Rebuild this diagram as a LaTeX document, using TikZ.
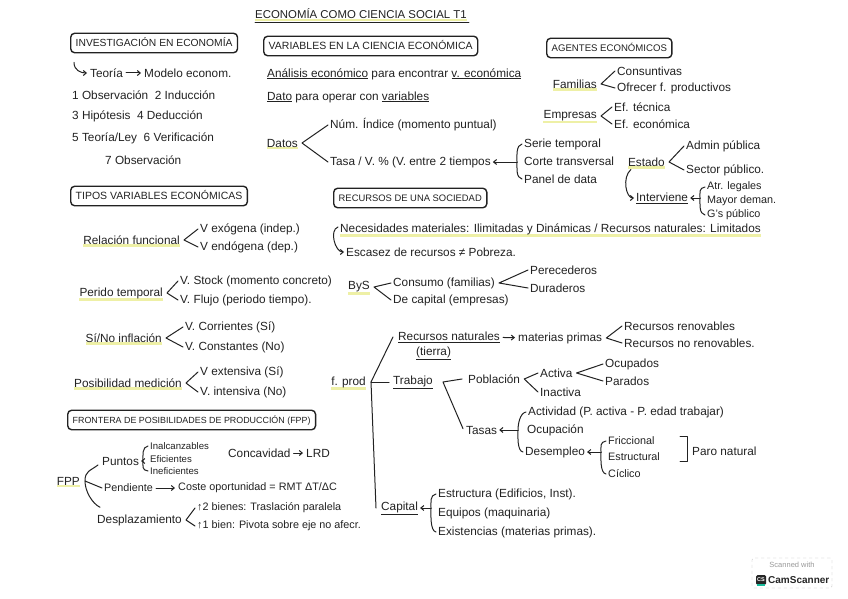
\documentclass[tikz,border=0pt]{standalone}
\usepackage{fontspec}
\setmainfont{Liberation Sans}
\usetikzlibrary{backgrounds,arrows.meta,calc}
\definecolor{ink}{HTML}{222222}
\definecolor{hlc}{HTML}{EEF0A6}
\definecolor{csgreen}{HTML}{19BC9C}
\newcommand\ltb[3]{\draw[br] ([xshift=-2pt]#2.west) -- ([xshift=4pt]#1.east) -- ([xshift=-2pt]#3.west);}
\newcommand\arb[3]{%
  \coordinate (bv) at ([xshift=-7pt]#3.west |- #1.east);
  \draw[br] ([xshift=-2pt]#2.west) .. controls +(-6,1) and +(0,-6) .. (bv) .. controls +(0,6) and +(-6,-1) .. ([xshift=-2pt]#3.west);
  \draw[arr] (bv) -- ([xshift=2pt]#1.east);}
\begin{document}
\begin{tikzpicture}[x=1pt,y=-1pt,
  txt/.style={anchor=west,inner sep=0pt,text=ink,font=\fontsize{11.8}{13}\selectfont},
  sm/.style={txt,font=\fontsize{10.8}{12}\selectfont},
  xs/.style={txt,font=\fontsize{9.6}{10}\selectfont},
  box/.style={anchor=west,draw=ink,line width=1.4pt,rounded corners=4pt,inner xsep=5pt,inner ysep=6pt,text height=7.5pt,text depth=0pt,text=ink},
  br/.style={draw=ink,line width=1pt,line cap=round,line join=round},
  arr/.style={br,-{Straight Barb[length=3pt,width=5pt]}},
  tarr/.style={arr,shorten <=3pt,shorten >=3pt}]
\useasboundingbox (0,0) rectangle (848,599);

% title
\node[txt,font=\fontsize{11.4}{12}\selectfont] (title) at (255,14) {ECONOMÍA COMO CIENCIA SOCIAL T1};
\draw[br] ([yshift=-3pt]title.south west) -- ([yshift=-3pt,xshift=2pt]title.south east);

% investigacion
\node[box,font=\fontsize{10.3}{11}\selectfont] (inv) at (70,43) {INVESTIGACIÓN EN ECONOMÍA};
\node[txt] (teo) at (90,73) {Teoría};
\node[txt] (mod) at (144,73) {Modelo econom.};
\draw[tarr] (teo) -- (mod);
\draw[arr] ([xshift=4pt,yshift=-9pt]inv.south west) .. controls +(0,8) and +(-6,0) .. ([xshift=-3pt]teo.west);
\node[txt] (s1) at (72,95) {1 Observación \ 2 Inducción};
\node[txt] (s3) at (72,116) {3 Hipótesis \ 4 Deducción};
\node[txt] (s5) at (72,138) {5 Teoría/Ley \ 6 Verificación};
\node[txt] (s7) at (105,160) {7 Observación};

% variables
\node[box,font=\fontsize{10.5}{11}\selectfont] (var) at (263,46) {VARIABLES EN LA CIENCIA ECONÓMICA};
\node[txt] (ana) at (267,74) {\underline{Análisis económico} para encontrar \underline{v. económica}};
\node[txt] (dato) at (267,97) {\underline{Dato} para operar con \underline{variables}};
\node[txt,anchor=east] (datos) at (298,143) {Datos};
\node[txt] (num) at (330,125) {Núm. Índice (momento puntual)};
\node[txt] (tasa) at (330,162) {Tasa / V. \% (V. entre 2 tiempos};
\ltb{datos}{num}{tasa}
\node[txt] (serie) at (524,144) {Serie temporal};
\node[txt] (corte) at (524,161) {Corte transversal};
\node[txt] (panel) at (524,179) {Panel de data};
\arb{tasa}{serie}{panel}

% agentes
\node[box,font=\fontsize{9.6}{10}\selectfont] (age) at (546,48) {AGENTES ECONÓMICOS};
\node[txt,anchor=east] (fam) at (597,84) {Familias};
\node[txt] (cons) at (617,71) {Consuntivas};
\node[txt] (ofr) at (617,88) {Ofrecer f. productivos};
\ltb{fam}{cons}{ofr}
\node[txt,anchor=east] (emp) at (597,116) {Empresas};
\node[txt] (eft) at (614,107) {Ef. técnica};
\node[txt] (efe) at (614,124) {Ef. económica};
\ltb{emp}{eft}{efe}
\node[txt,anchor=east] (est) at (665,162) {Estado};
\node[txt] (adm) at (686,146) {Admin pública};
\node[txt] (sec) at (686,170) {Sector público.};
\ltb{est}{adm}{sec}
\node[txt] (int) at (636,198) {\underline{Interviene}};
\node[sm] (atr) at (707,187) {Atr. legales};
\node[sm] (may) at (707,201) {Mayor deman.};
\node[sm] (gs) at (707,215) {G's público};
\arb{int}{atr}{gs}
\draw[arr] ([xshift=3pt,yshift=-3pt]est.south west) .. controls +(-9,8) and +(-8,0) .. ([xshift=-2pt]int.west);

% tipos
\node[box,font=\fontsize{10.5}{11}\selectfont] (tip) at (70,196) {TIPOS VARIABLES ECONÓMICAS};
\node[txt,anchor=east] (rf) at (180,240) {Relación funcional};
\node[txt] (vex) at (200,229) {V exógena (indep.)};
\node[txt] (ven) at (200,247) {V endógena (dep.)};
\ltb{rf}{vex}{ven}
\node[txt,anchor=east] (pt) at (163,293) {Perido temporal};
\node[txt] (vst) at (180,281) {V. Stock (momento concreto)};
\node[txt] (vfl) at (180,300) {V. Flujo (periodo tiempo).};
\ltb{pt}{vst}{vfl}
\node[txt,anchor=east] (inf) at (162,338) {Sí/No inflación};
\node[txt] (vco) at (185,327) {V. Corrientes (Sí)};
\node[txt] (vcn) at (185,347) {V. Constantes (No)};
\ltb{inf}{vco}{vcn}
\node[txt,anchor=east] (pm) at (182,383) {Posibilidad medición};
\node[txt] (vext) at (200,372) {V extensiva (Sí)};
\node[txt] (vint) at (200,392) {V. intensiva (No)};
\ltb{pm}{vext}{vint}

% recursos
\node[box,font=\fontsize{9.4}{10}\selectfont] (rec) at (333,198) {RECURSOS DE UNA SOCIEDAD};
\node[txt] (nec) at (340,229) {Necesidades materiales: Ilimitadas y Dinámicas / Recursos naturales: Limitados};
\node[txt] (esc) at (346,252) {Escasez de recursos ≠ Pobreza.};
\draw[arr] ([xshift=-2pt,yshift=2pt]nec.west) .. controls +(-9,3) and +(-9,0) .. ([xshift=-2pt]esc.west);
\node[txt,anchor=east] (bys) at (370,287) {ByS};
\node[txt] (cns) at (393,283) {Consumo (familias)};
\node[txt] (dcap) at (393,300) {De capital (empresas)};
\ltb{bys}{cns}{dcap}
\node[txt] (per) at (530,270) {Perecederos};
\node[txt] (dur) at (530,288) {Duraderos};
\ltb{cns}{per}{dur}

% factores de produccion
\node[txt,anchor=east] (fp) at (366,382) {f. prod};
\node[txt] (rn) at (398,337) {\underline{Recursos naturales}};
\node[txt] (tie) at (416,353) {\underline{(tierra)}};
\node[txt] (mp) at (518,338) {materias primas};
\draw[tarr] (rn) -- (mp);
\node[txt] (rr) at (624,326) {Recursos renovables};
\node[txt] (rnr) at (624,343) {Recursos no renovables.};
\ltb{mp}{rr}{rnr}
\node[txt] (trab) at (393,382) {\underline{Trabajo}};
\node[txt] (cap) at (381,508) {\underline{Capital}};
\coordinate (fv) at ([xshift=5pt]fp.east);
\draw[br] (fv) -- ([xshift=-5pt]rn.west);
\draw[br] (fv) -- ([xshift=-4pt]trab.west);
\draw[br] (fv) -- ([xshift=-5pt]cap.west);
\node[txt] (pob) at (468,379) {Población};
\node[txt] (tas) at (466,430) {Tasas};
\draw[br] ([xshift=-6pt]pob.west) -- ([xshift=10pt]trab.east) -- ([xshift=-3pt,yshift=-3pt]tas.north west);
\node[txt] (act) at (540,373) {Activa};
\node[txt] (ina) at (540,392) {Inactiva};
\ltb{pob}{act}{ina}
\node[txt] (ocu) at (605,364) {Ocupados};
\node[txt] (par) at (605,381) {Parados};
\ltb{act}{ocu}{par}
\node[txt] (acd) at (528,412) {Actividad (P. activa - P. edad trabajar)};
\node[txt] (ocp) at (527,430) {Ocupación};
\node[txt] (des) at (525,452) {Desempleo};
\arb{tas}{acd}{des}
\node[sm] (fri) at (608,441) {Friccional};
\node[sm] (estr) at (608,457) {Estructural};
\node[sm] (cic) at (608,474) {Cíclico};
\arb{des}{fri}{cic}
\node[txt] (paro) at (692,451) {Paro natural};
\draw[br] ([xshift=-12pt]paro.west |- fri.north) -- ([xshift=-5pt]paro.west |- fri.north) -- ([xshift=-5pt]paro.west |- estr.south) -- ([xshift=-12pt]paro.west |- estr.south);
\node[txt] (estru) at (438,494) {Estructura (Edificios, Inst).};
\node[txt] (equi) at (438,513) {Equipos (maquinaria)};
\node[txt] (exis) at (438,532) {Existencias (materias primas).};
\arb{cap}{estru}{exis}

% FPP
\node[box,font=\fontsize{8.9}{9}\selectfont] (fppb) at (67,420) {FRONTERA DE POSIBILIDADES DE PRODUCCIÓN (FPP)};
\node[txt,anchor=east] (fpp) at (80,481) {FPP};
\node[txt] (pun) at (102,461) {Puntos};
\node[xs] (ial) at (150,446) {Inalcanzables};
\node[xs] (efi) at (150,459) {Eficientes};
\node[xs] (inef) at (150,471) {Ineficientes};
\arb{pun}{ial}{inef}
\node[txt] (conc) at (228,453) {Concavidad};
\node[txt] (lrd) at (306,453) {LRD};
\draw[tarr] (conc) -- (lrd);
\node[sm] (pend) at (104,488) {Pendiente};
\node[sm] (cost) at (178,488) {Coste oportunidad = RMT ΔT/ΔC};
\draw[tarr] (pend) -- (cost);
\node[txt] (desp) at (97,520) {Desplazamiento};
\node[sm] (b2) at (197,508) {↑2 bienes: Traslación paralela};
\node[sm] (b1) at (197,526) {↑1 bien: Pivota sobre eje no afecr.};
\ltb{desp}{b2}{b1}
\coordinate (fv2) at ([xshift=5pt]fpp.east);
\draw[br] ([xshift=-4pt,yshift=-4pt]pun.west) .. controls +(-8,6) and +(0,-10) .. (fv2) .. controls +(0,10) and +(-8,-4) .. ([xshift=3pt,yshift=7pt]desp.north west);
\draw[br] (fv2) -- ([xshift=-2pt]pend.west);

% CamScanner badge
\node[draw=gray!55,dashed,rounded corners=2pt,minimum width=80pt,minimum height=30pt,inner sep=0pt] (cs) at (792,573) {};
\node[inner sep=0pt,text=gray!80,font=\fontsize{7.5}{8}\selectfont] (csa) at (792,565) {Scanned with};
\node[fill=black!85,rounded corners=1.5pt,minimum size=10pt,inner sep=0pt,text=white,font=\bfseries\fontsize{5.5}{6}\selectfont] (csi) at (761,580) {CS};
\draw[csgreen,line width=1.6pt] ([xshift=1pt]csi.south west) -- ([xshift=-1pt]csi.south east);
\node[anchor=west,inner sep=0pt,text=black!85,font=\bfseries\fontsize{10}{10}\selectfont] (csn) at (768,580) {CamScanner};

% background and highlights
\begin{scope}[on background layer]
  \fill[white] (0,0) rectangle (848,599);
  \foreach \n in {title,datos,fam,emp,est,rf,pt,inf,pm,bys,fp,fpp,nec}
    \fill[hlc] ([yshift=-2pt]\n.south west) rectangle ([yshift=0.3pt]\n.south east);
\end{scope}
\end{tikzpicture}
\end{document}
